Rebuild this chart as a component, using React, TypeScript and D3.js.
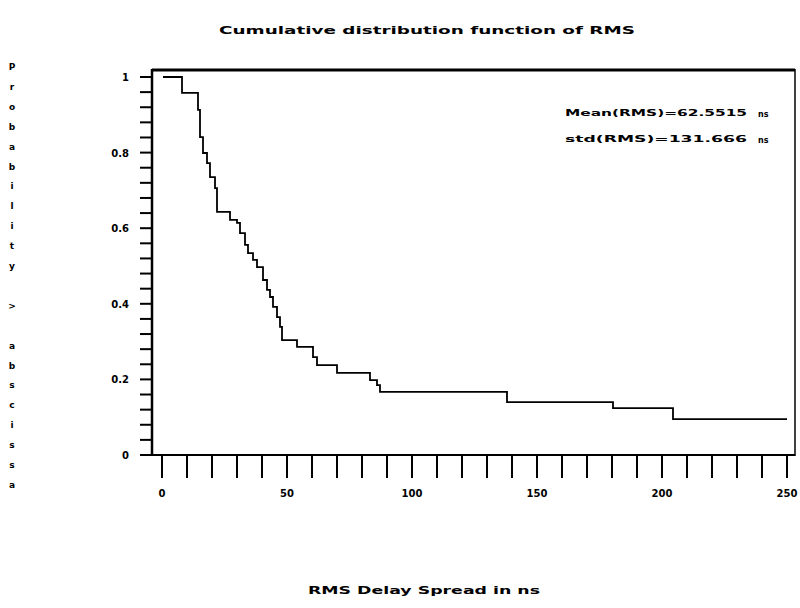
import * as d3 from 'd3'

// drop points of the complementary CDF
const rmsNs = [0.4, 8.0, 14.4, 15.2, 16.4, 18.0, 19.2, 21.2, 22.0, 27.2, 30.0, 31.2, 33.2, 34.4, 36.4, 38.0, 40.4, 42.0, 43.2, 44.4, 46.0, 47.2, 48.0, 54.0, 60.4, 62.0, 70.0, 83.2, 86.0, 87.2, 138.0, 180.4, 204.4, 250]
const prob = [1, 0.958, 0.913, 0.841, 0.799, 0.772, 0.735, 0.706, 0.643, 0.622, 0.614, 0.587, 0.556, 0.534, 0.516, 0.497, 0.463, 0.437, 0.418, 0.392, 0.365, 0.339, 0.304, 0.286, 0.259, 0.238, 0.217, 0.198, 0.185, 0.167, 0.140, 0.124, 0.095, 0.095]

const xTickLabels = [0, 50, 100, 150, 200, 250]
const yTickLabels = ['0', '0.2', '0.4', '0.6', '0.8', '1']
const legendLines = [
  { text: 'Mean(RMS)=62.5515', unit: 'ns' },
  { text: 'std(RMS)=131.666', unit: 'ns' },
]
const title = 'Cumulative distribution function of RMS'
const xTitle = 'RMS Delay Spread in ns'
const yTitle = 'Probability > abscissa'

const W = 800
const H = 608
const font = "'DejaVu Sans', sans-serif"

export default function App() {
  const x = d3.scaleLinear().domain([0, 250]).range([162, 787])
  const y = d3.scaleLinear().domain([0, 1]).range([455, 77])

  const line = d3.line<number>()
    .x((_, i) => x(rmsNs[i]))
    .y(d => y(d))
    .curve(d3.curveStepAfter)

  const xTicks = d3.range(0, 251, 10)
  const yTicks = d3.range(0, 1.0001, 0.04)

  const letters = yTitle.split('')
  const ly = d3.scaleLinear().domain([0, letters.length - 1]).range([66, 484])

  return (
    <svg width={W} height={H} style={{ position: 'absolute', left: 0, top: 0, background: '#fff' }}>
      <rect x={0} y={0} width={W} height={H} fill="#fff" />
      <text x={427} y={34} textAnchor="middle" fontFamily={font} fontWeight="bold" fontSize={10}
        textLength={416} lengthAdjust="spacingAndGlyphs">{title}</text>

      {/* frame */}
      <line x1={152} x2={795} y1={70} y2={70} stroke="#000" strokeWidth={3} />
      <line x1={152} x2={152} y1={69} y2={456} stroke="#000" strokeWidth={2.5} />
      <line x1={152} x2={795} y1={455} y2={455} stroke="#000" strokeWidth={2} />
      <line x1={795} x2={795} y1={69} y2={456} stroke="#000" strokeWidth={1.5} />

      {xTicks.map(t => (
        <line key={'xt' + t} x1={x(t)} x2={x(t)} y1={455} y2={478} stroke="#000" strokeWidth={2} />
      ))}
      {yTicks.map((t, i) => (
        <line key={'yt' + i} x1={140} x2={152} y1={y(t)} y2={y(t)} stroke="#000" strokeWidth={2} />
      ))}

      {xTickLabels.map(t => (
        <text key={'xl' + t} x={x(t)} y={497} textAnchor="middle" fontFamily={font} fontWeight="bold" fontSize={10}>{t}</text>
      ))}
      {yTickLabels.map((t, i) => (
        <text key={'yl' + t} x={129} y={y(i * 0.2) + 4} textAnchor="end" fontFamily={font} fontWeight="bold" fontSize={10}>{t}</text>
      ))}

      <path d={line(prob) || ''} fill="none" stroke="#000" strokeWidth={1.8} />

      {legendLines.map((l, i) => (
        <g key={'lg' + i}>
          <text x={565} y={116 + i * 26} fontFamily={font} fontWeight="bold" fontSize={9}
            textLength={182} lengthAdjust="spacingAndGlyphs">{l.text}</text>
          <text x={758} y={117 + i * 26} fontFamily={font} fontWeight="bold" fontSize={8}>{l.unit}</text>
        </g>
      ))}

      {letters.map((c, i) => (
        <text key={'yc' + i} x={12} y={ly(i) + 4} textAnchor="middle" fontFamily={font} fontWeight="bold" fontSize={9}>{c}</text>
      ))}

      <text x={424} y={594} textAnchor="middle" fontFamily={font} fontWeight="bold" fontSize={10}
        textLength={232} lengthAdjust="spacingAndGlyphs">{xTitle}</text>
    </svg>
  )
}
